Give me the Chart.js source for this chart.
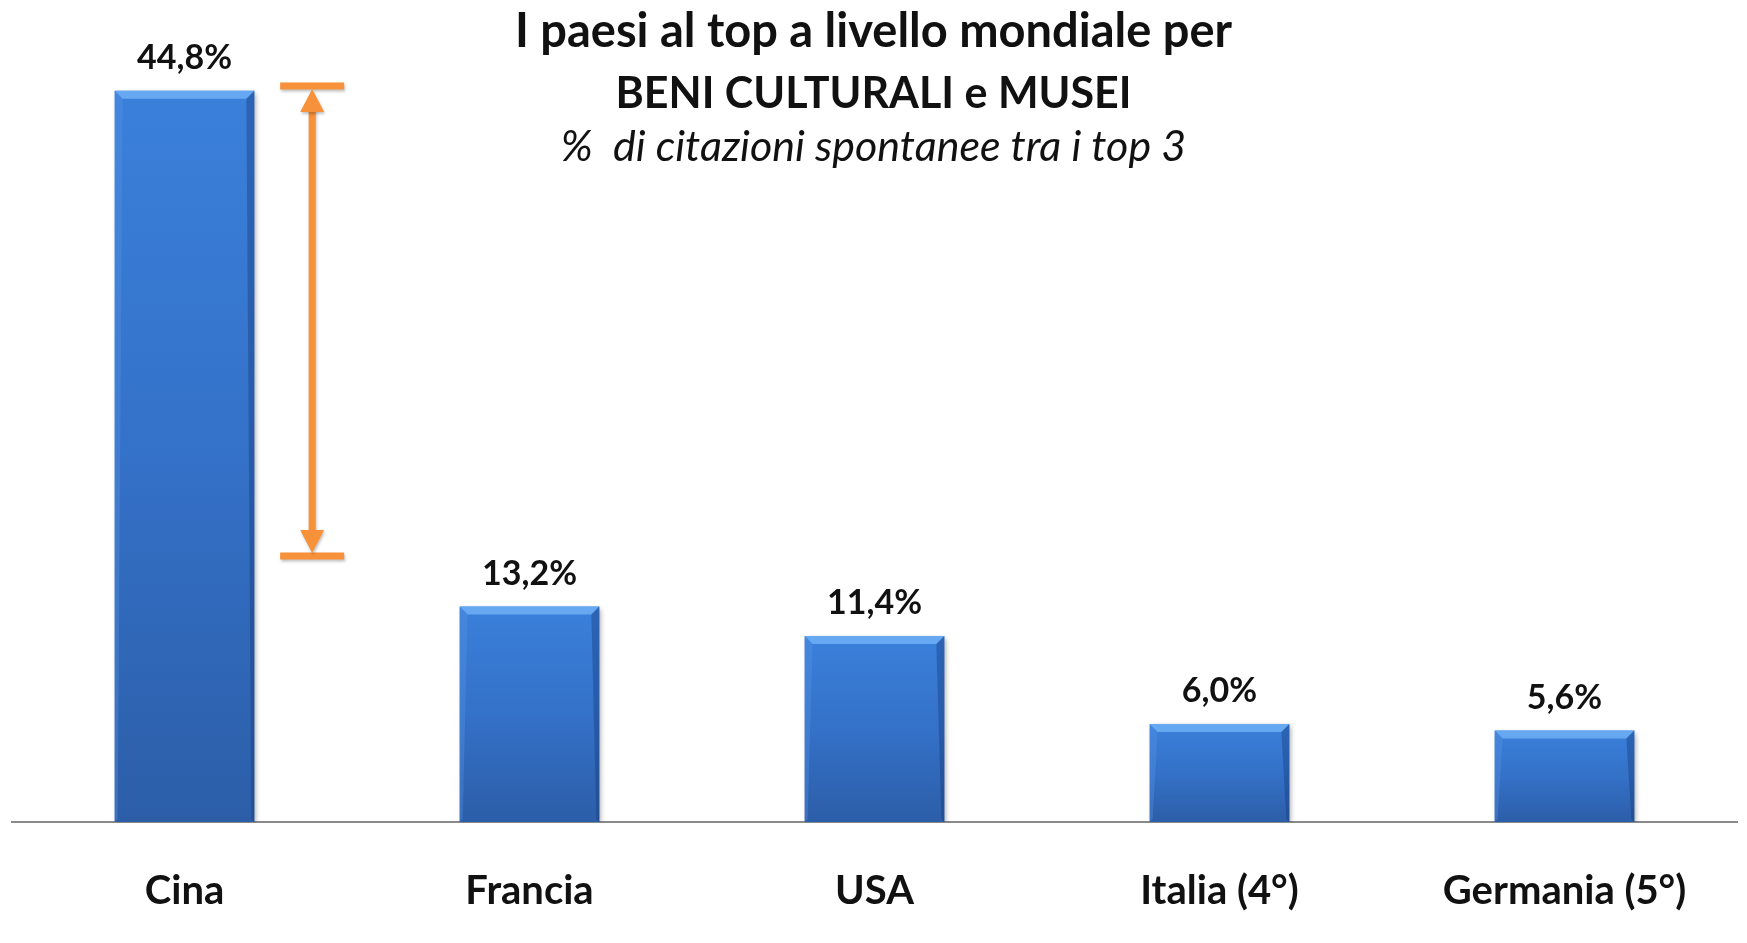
<!DOCTYPE html>
<html>
<head>
<meta charset="utf-8">
<title>Beni culturali e musei</title>
<script src="https://cdn.jsdelivr.net/npm/chart.js@4/dist/chart.umd.min.js"></script>
<style>
  html, body { margin: 0; padding: 0; background: #fff; }
  #wrap { width: 1747px; height: 943px; }
</style>
</head>
<body>
<div id="wrap"><canvas id="myChart" width="1747" height="943"></canvas></div>
<script>
// data
var countries = ['Cina', 'Francia', 'USA', 'Italia (4°)', 'Germania (5°)'];
var shares = [44.8, 13.2, 11.4, 6.0, 5.6];
var shareLabels = ['44,8%', '13,2%', '11,4%', '6,0%', '5,6%'];
var titleLines = ['I paesi al top a livello mondiale per', 'BENI CULTURALI e MUSEI'];
var subTitle = '%  di citazioni spontanee tra i top 3';
// orange gap marker, top and bottom in axis units
var gapSpan = [45.1, 16.3];

var ctx = document.getElementById('myChart').getContext('2d');

function barFill(context) {
    var chart = context.chart;
    var y = chart.scales.y;
    if (!y || context.dataIndex === undefined) return '#3474cc';
    var top = y.getPixelForValue(shares[context.dataIndex]);
    var bottom = y.getPixelForValue(0);
    if (!isFinite(top) || !isFinite(bottom)) return '#3474cc';
    var g = chart.ctx.createLinearGradient(0, top, 0, bottom);
    g.addColorStop(0, '#3a80db');
    g.addColorStop(0.5, '#3471c8');
    g.addColorStop(1, '#2c5ea8');
    return g;
}

var barShadow = {
    id: 'barShadow',
    beforeDatasetsDraw: function(chart) {
        var c = chart.ctx;
        c.save();
        c.shadowColor = 'rgba(0,0,0,0.35)';
        c.shadowBlur = 5;
        c.shadowOffsetX = 2;
        c.shadowOffsetY = 2;
    },
    afterDatasetsDraw: function(chart) {
        var c = chart.ctx;
        c.restore();
        var bars = chart.getDatasetMeta(0).data;
        bars.forEach(function(bar, i) {
            var l = bar.x - bar.width / 2, r = bar.x + bar.width / 2;
            var t = bar.y, b = bar.base, bv = 8;
            // top bevel
            c.fillStyle = 'rgba(110,175,245,0.85)';
            c.beginPath();
            c.moveTo(l, t); c.lineTo(r, t); c.lineTo(r - bv, t + bv); c.lineTo(l + bv, t + bv);
            c.closePath(); c.fill();
            // side edges
            c.fillStyle = 'rgba(20,50,110,0.35)';
            c.beginPath();
            c.moveTo(r, t); c.lineTo(r, b); c.lineTo(r - 3, b - 3); c.lineTo(r - bv, t + bv);
            c.closePath(); c.fill();
            c.fillStyle = 'rgba(90,150,230,0.35)';
            c.beginPath();
            c.moveTo(l, t); c.lineTo(l, b); c.lineTo(l + 3, b - 3); c.lineTo(l + bv, t + bv);
            c.closePath(); c.fill();
            // value label
            c.fillStyle = '#111';
            c.font = 'bold 34px Lato';
            c.textAlign = 'center';
            c.textBaseline = 'middle';
            c.fillText(shareLabels[i], bar.x, t - 33);
        });
    }
};

var headings = {
    id: 'headings',
    afterDraw: function(chart) {
        var c = chart.ctx;
        var cx = chart.width / 2;
        c.save();
        c.fillStyle = '#111';
        c.textAlign = 'center';
        c.textBaseline = 'alphabetic';
        c.font = 'bold 47px Lato';
        c.fillText(titleLines[0], cx, 47);
        c.font = 'bold 43px Lato';
        c.fillText(titleLines[1], cx, 108);
        c.font = 'italic 43px Lato';
        c.fillText(subTitle, cx, 161);

        // orange arrow between the top of Cina and the level of Francia
        var x = chart.scales.x, y = chart.scales.y;
        var step = x.getPixelForValue(1) - x.getPixelForValue(0);
        var ax = x.getPixelForValue(0) + 0.37 * step;
        var yTop = y.getPixelForValue(gapSpan[0]);
        var yBot = y.getPixelForValue(gapSpan[1]);
        c.shadowColor = 'rgba(0,0,0,0.25)';
        c.shadowBlur = 3;
        c.shadowOffsetX = 1;
        c.shadowOffsetY = 2;
        c.fillStyle = '#f7923a';
        c.fillRect(ax - 32, yTop - 3.5, 64, 7);
        c.fillRect(ax - 32, yBot - 3.5, 64, 7);
        c.fillRect(ax - 3.5, yTop + 20, 7, yBot - yTop - 40);
        c.beginPath();
        c.moveTo(ax, yTop + 3); c.lineTo(ax + 12, yTop + 26); c.lineTo(ax - 12, yTop + 26);
        c.closePath(); c.fill();
        c.beginPath();
        c.moveTo(ax, yBot - 3); c.lineTo(ax + 12, yBot - 26); c.lineTo(ax - 12, yBot - 26);
        c.closePath(); c.fill();
        c.restore();
    }
};

new Chart(ctx, {
    type: 'bar',
    data: {
        labels: countries,
        datasets: [{
            data: shares,
            backgroundColor: barFill,
            borderWidth: 0,
            categoryPercentage: 1,
            barPercentage: 0.405
        }]
    },
    options: {
        responsive: false,
        animation: false,
        layout: { padding: { left: 12, right: 10, top: 6, bottom: 0 } },
        plugins: {
            legend: { display: false },
            tooltip: { enabled: false },
            title: { display: false }
        },
        scales: {
            x: {
                grid: { display: false, drawTicks: false },
                border: { display: true, color: '#8a8a8a', width: 2 },
                ticks: {
                    color: '#111',
                    padding: 45,
                    maxRotation: 0,
                    font: { family: 'Lato', weight: 'bold', size: 40 }
                },
                afterFit: function(scale) { scale.height = 121; }
            },
            y: {
                display: false,
                min: 0,
                max: 50
            }
        }
    },
    plugins: [barShadow, headings]
});
</script>
</body>
</html>
